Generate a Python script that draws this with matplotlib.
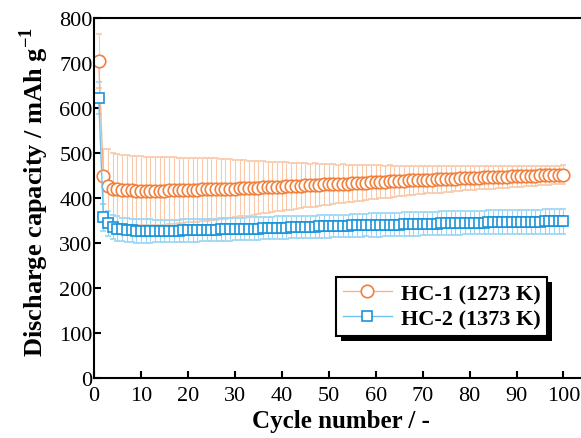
import matplotlib.pyplot as plt
from matplotlib.lines import Line2D
from matplotlib.patches import Rectangle
from matplotlib.transforms import IdentityTransform

plt.rcParams['font.family'] = ['Liberation Serif', 'DejaVu Serif']
plt.rcParams['mathtext.fontset'] = 'custom'
plt.rcParams['mathtext.rm'] = 'Liberation Serif'
plt.rcParams['mathtext.bf'] = 'Liberation Serif:bold'

# numero de ciclos
ciclos = list(range(1, 101))

# HC-1 (1273 K): media e desvio
hc1_media = [705, 448, 426, 421, 419, 418, 417, 417, 416, 416,
             416, 416, 416, 416, 416, 417, 417, 417, 417, 418,
             418, 418, 419, 419, 419, 420, 420, 420, 421, 421,
             422, 422, 422, 423, 423, 424, 424, 424, 425, 425,
             426, 426, 427, 427, 428, 428, 429, 429, 430, 430,
             431, 431, 432, 432, 433, 433, 434, 434, 435, 435,
             436, 436, 437, 437, 438, 438, 439, 439, 440, 440,
             441, 441, 442, 442, 442, 443, 443, 444, 444, 444,
             445, 445, 446, 446, 446, 447, 447, 447, 448, 448,
             448, 449, 449, 449, 450, 450, 450, 451, 451, 452]
hc1_desvio = [60, 62, 82, 80, 79, 78, 78, 77, 77, 77,
              76, 76, 75, 75, 75, 74, 74, 73, 73, 72,
              72, 71, 70, 70, 69, 68, 67, 66, 65, 64,
              63, 62, 61, 60, 59, 58, 57, 56, 55, 54,
              53, 52, 51, 50, 49, 48, 48, 47, 46, 45,
              44, 43, 43, 42, 41, 40, 40, 39, 38, 38,
              37, 36, 36, 35, 34, 34, 33, 33, 32, 32,
              31, 31, 30, 30, 29, 29, 28, 28, 27, 27,
              27, 26, 26, 25, 25, 25, 24, 24, 24, 23,
              23, 23, 22, 22, 22, 22, 21, 21, 21, 21]

# HC-2 (1373 K): media e desvio
hc2_media = [622, 357, 344, 336, 332, 330, 329, 328, 327, 327,
             327, 327, 327, 327, 327, 327, 327, 327, 328, 328,
             328, 328, 329, 329, 329, 329, 330, 330, 330, 331,
             331, 331, 332, 332, 332, 333, 333, 333, 334, 334,
             334, 335, 335, 335, 336, 336, 336, 337, 337, 337,
             338, 338, 338, 338, 339, 339, 339, 340, 340, 340,
             340, 341, 341, 341, 341, 342, 342, 342, 342, 343,
             343, 343, 343, 344, 344, 344, 344, 344, 345, 345,
             345, 345, 345, 346, 346, 346, 346, 346, 346, 347,
             347, 347, 347, 347, 347, 348, 348, 348, 348, 348]
hc2_desvio = [35, 30, 28, 27, 27, 26, 26, 26, 26, 26,
              26, 26, 25, 25, 25, 25, 25, 25, 25, 25,
              25, 25, 25, 25, 25, 25, 25, 25, 25, 25,
              25, 25, 25, 25, 25, 25, 25, 25, 25, 25,
              25, 25, 25, 25, 25, 25, 25, 25, 25, 25,
              25, 25, 25, 25, 25, 25, 25, 25, 26, 26,
              26, 26, 26, 26, 26, 26, 26, 26, 26, 26,
              26, 26, 26, 26, 26, 26, 26, 26, 26, 26,
              26, 26, 26, 27, 27, 27, 27, 27, 27, 27,
              27, 27, 27, 27, 27, 27, 27, 27, 27, 27]

rotulos = ['HC-1 (1273 K)', 'HC-2 (1373 K)']

fig = plt.figure(figsize=(5.81, 4.39), dpi=100)
ax = fig.add_axes([0.1618, 0.1367, 0.8484, 0.82])

estilo1 = dict(color='#f7b48c', linewidth=1.0, marker='o', markersize=9,
               markerfacecolor='white', markeredgecolor='#f0803c', markeredgewidth=1.2)
estilo2 = dict(color='#6cc4ee', linewidth=1.0, marker='s', markersize=7.5,
               markerfacecolor='white', markeredgecolor='#1b93d9', markeredgewidth=1.2)

ax.errorbar(ciclos, hc1_media, yerr=hc1_desvio, ecolor='#f9c9aa',
            elinewidth=0.8, capsize=2.2, capthick=0.8, **estilo1)
ax.errorbar(ciclos, hc2_media, yerr=hc2_desvio, ecolor='#9dd6f3',
            elinewidth=0.8, capsize=2.2, capthick=0.8, **estilo2)

ax.set_xlim(0, 105)
ax.set_ylim(0, 800)
ax.set_xticks(range(0, 101, 10))
ax.set_yticks(range(0, 801, 100))
ax.tick_params(direction='in', length=5, width=1.5, labelsize=16)
ax.tick_params(axis='x', pad=6)
ax.tick_params(axis='y', pad=1)
ax.spines['right'].set_visible(False)
for lado in ['left', 'bottom', 'top']:
    ax.spines[lado].set_linewidth(1.5)

ax.set_xlabel('Cycle number / -', fontsize=18, fontweight='bold', labelpad=3)
ax.set_ylabel(r'Discharge capacity / mAh g$^{\mathbf{-1}}$', fontsize=19,
              fontweight='bold')
ax.yaxis.set_label_coords(-0.087, 0.52)

# legenda com linha + marcador
alcas = [Line2D([], [], **estilo1), Line2D([], [], **estilo2)]
leg = ax.legend(alcas, rotulos, loc='lower right', bbox_to_anchor=(0.919, 0.117),
                borderaxespad=0, prop={'size': 16, 'weight': 'bold'}, fancybox=False,
                edgecolor='black', framealpha=1, handlelength=2.2, handletextpad=0.4,
                borderpad=0.3, labelspacing=0.2)
leg.get_frame().set_linewidth(1.5)

# sombra preta deslocada atras da legenda
fig.canvas.draw()
caixa = leg.get_window_extent()
sombra = Rectangle((caixa.x0 + 5, caixa.y0 - 5), caixa.width, caixa.height,
                   transform=IdentityTransform(), facecolor='black', edgecolor='none',
                   zorder=4.9, clip_on=False)
ax.add_artist(sombra)

plt.savefig('out.png', dpi=100)
